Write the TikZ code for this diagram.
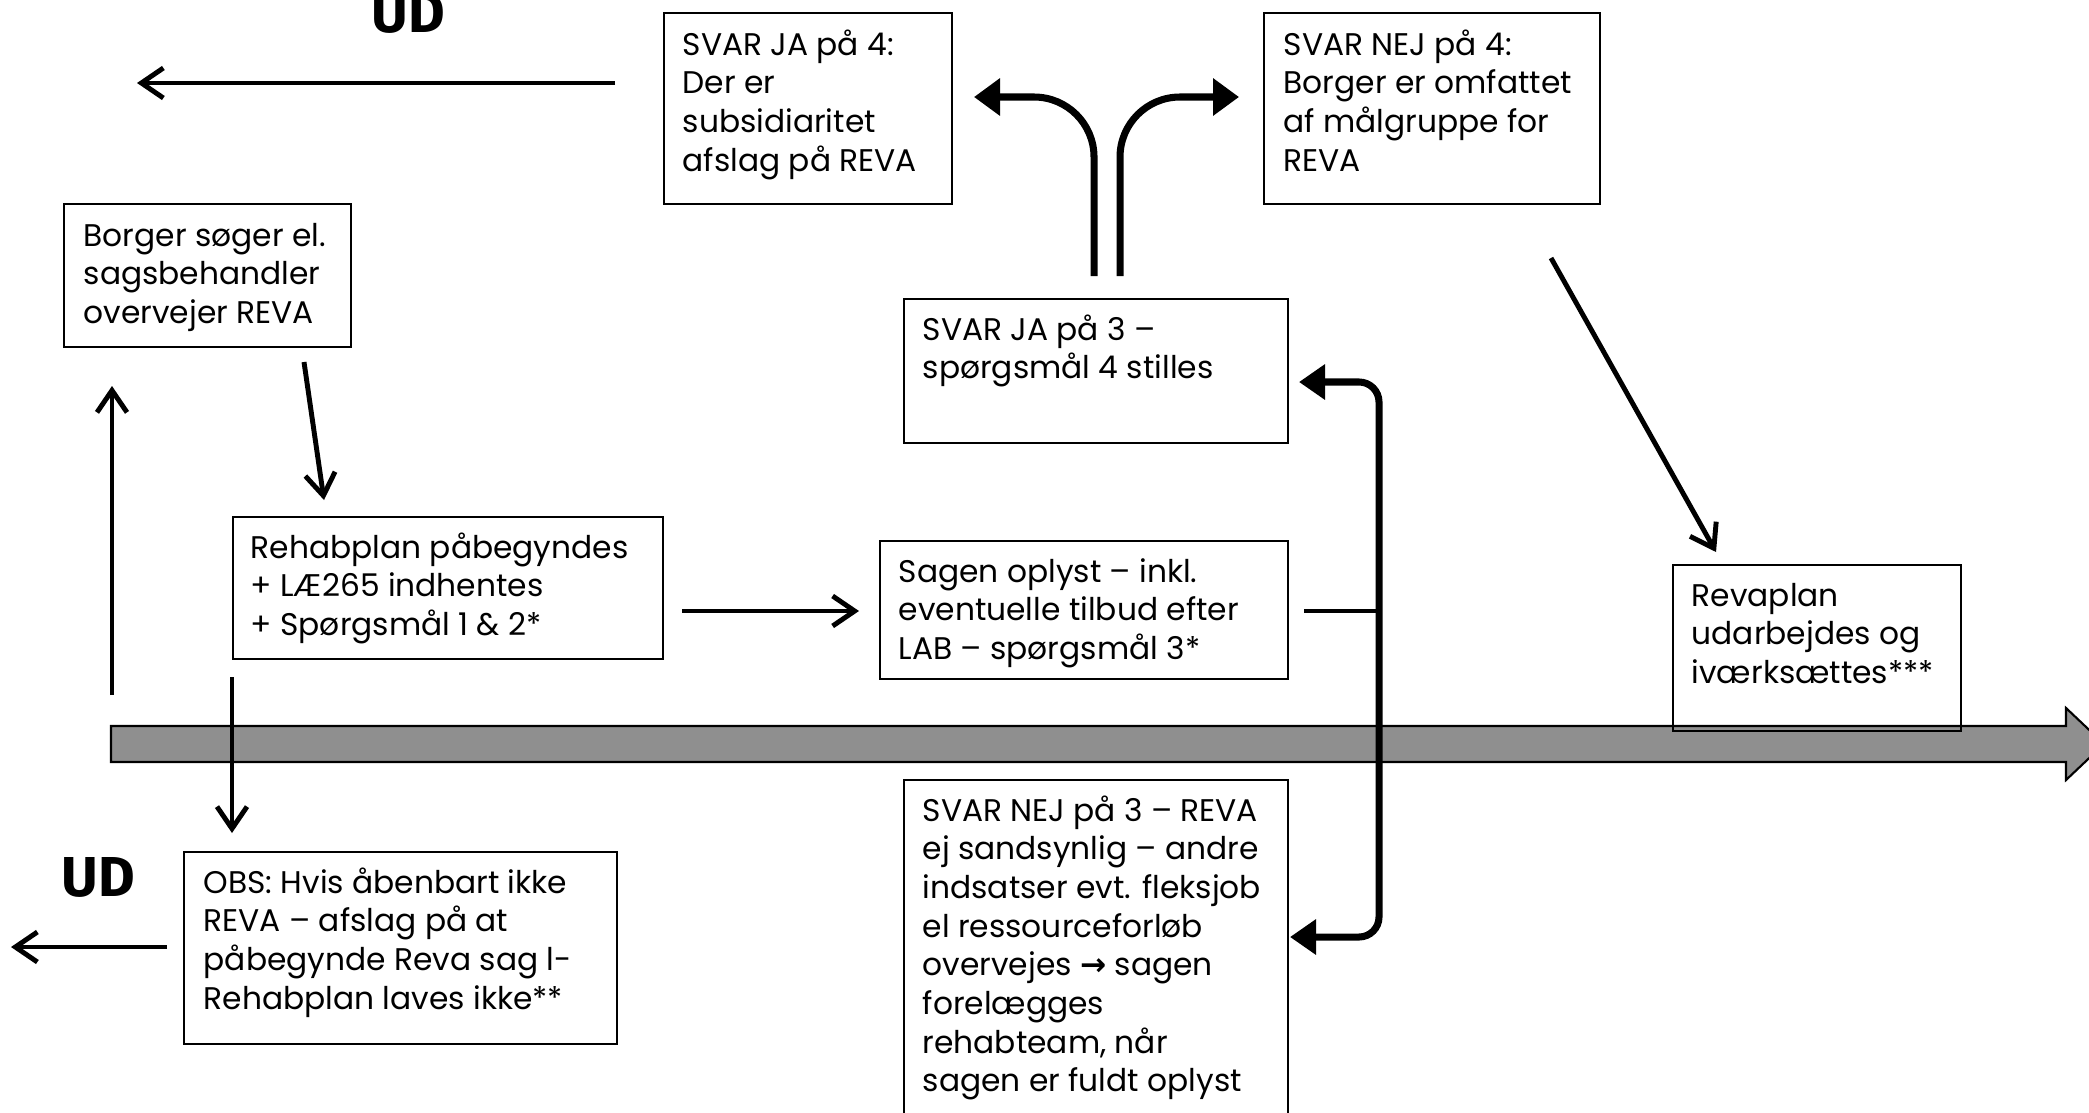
\documentclass[tikz,border=0pt]{standalone}
\usepackage{fontspec}
\setmainfont{Poppins}
\newfontfamily\udfont{Fira Sans}
\newfontfamily\arrowfont{DejaVu Sans}
\usetikzlibrary{arrows.meta}
\definecolor{barg}{RGB}{143,143,143}
\newcommand\lns[1]{\begin{tabular}[t]{@{}l@{}}#1\end{tabular}}
\begin{document}
\begin{tikzpicture}[x=0.01cm,y=-0.01cm,
  box/.style={draw, line width=0.6pt, anchor=north west, inner sep=0pt},
  txt/.style={anchor=base west, inner sep=0pt, font=\fontsize{8.9}{11}\selectfont},
  udtxt/.style={inner sep=0pt, font=\udfont\bfseries\fontsize{16}{18}\selectfont},
  thinarr/.style={line width=1.4pt, -{Straight Barb[length=2.2mm,width=3mm]}},
  thickarr/.style={line width=2pt, -{Triangle[length=2.6mm,width=3.6mm]}},
  plainline/.style={line width=1.4pt},
]
\useasboundingbox (0,0) rectangle (2089,1112);
\clip (0,0) rectangle (2089,1112);

% grey timeline
\draw[fill=barg, line width=0.6pt] (111,726) -- (2066,726) -- (2066,708) -- (2104,744) -- (2066,780) -- (2066,762) -- (111,762) -- cycle;

% boxes
\node[box, minimum width=2.88cm, minimum height=1.91cm] (ja4) at (663,12) {};
\node[box, minimum width=3.36cm, minimum height=1.91cm] (nej4) at (1263,12) {};
\node[box, minimum width=2.87cm, minimum height=1.43cm] (borger) at (63,203) {};
\node[box, minimum width=3.84cm, minimum height=1.44cm] (ja3) at (903,298) {};
\node[box, minimum width=4.30cm, minimum height=1.42cm] (rehab) at (232,516) {};
\node[box, minimum width=4.08cm, minimum height=1.38cm] (sagen) at (879,540) {};
\node[box, minimum width=2.88cm, minimum height=1.66cm] (reva) at (1672,564) {};
\node[box, minimum width=4.33cm, minimum height=1.92cm] (obs) at (183,851) {};
\node[box, minimum width=3.84cm, minimum height=3.36cm] (nej3) at (903,779) {};

% texts
\node[txt] (ja4t) at (682,55) {\lns{SVAR JA på 4:\\Der er\\subsidiaritet\\afslag på REVA}};
\node[txt] (nej4t) at (1283,55) {\lns{SVAR NEJ på 4:\\Borger er omfattet\\af målgruppe for\\REVA}};
\node[txt] (borgert) at (83,246) {\lns{Borger søger el.\\sagsbehandler\\overvejer REVA}};
\node[txt] (ja3t) at (922,340) {\lns{SVAR JA på 3 –\\spørgsmål 4 stilles}};
\node[txt] (rehabt) at (250,558) {\lns{Rehabplan påbegyndes\\+ LÆ265 indhentes\\+ Spørgsmål 1 \& 2*}};
\node[txt] (sagent) at (898,582) {\lns{Sagen oplyst – inkl.\\eventuelle tilbud efter\\LAB – spørgsmål 3*}};
\node[txt] (revat) at (1691,606) {\lns{Revaplan\\udarbejdes og\\iværksættes***}};
\node[txt] (obst) at (203,893) {\lns{OBS: Hvis åbenbart ikke\\REVA – afslag på at\\påbegynde Reva sag l-\\Rehabplan laves ikke**}};
\node[txt] (nej3t) at (922,821) {\lns{SVAR NEJ på 3 – REVA\\ej sandsynlig – andre\\indsatser evt. fleksjob\\el ressourceforløb\\overvejes {\arrowfont\bfseries →} sagen\\forelægges\\rehabteam, når\\sagen er fuldt oplyst}};

\node[udtxt] (ud1) at (408,13) {UD};
\node[udtxt] (ud2) at (98,877) {UD};

% connector end points
\coordinate (a1s) at (615,83);  \coordinate (a1e) at (137,83);
\coordinate (a2s) at (112,695); \coordinate (a2e) at (112,386);
\coordinate (a3s) at (304,362); \coordinate (a3e) at (324,500);
\coordinate (a4s) at (682,611); \coordinate (a4e) at (859,611);
\coordinate (a5s) at (1304,611); \coordinate (a5e) at (1379,611);
\coordinate (a6s) at (1299,382); \coordinate (a6e) at (1290,937);
\coordinate (a7s) at (1094,276); \coordinate (a7e) at (974,97);
\coordinate (a8s) at (1120,276); \coordinate (a8e) at (1239,97);
\coordinate (a9s) at (1551,258); \coordinate (a9e) at (1716,552);
\coordinate (a10s) at (232,677); \coordinate (a10e) at (232,833);
\coordinate (a11s) at (167,947); \coordinate (a11e) at (11,947);

% connectors
\draw[thinarr] (a1s) -- (a1e);
\draw[thinarr] (a2s) -- (a2e);
\draw[thinarr] (a3s) -- (a3e);
\draw[thinarr] (a4s) -- (a4e);
\draw[plainline] (a5s) -- (a5e);
\draw[thickarr, {Triangle[length=2.6mm,width=3.4mm]}-{Triangle[length=2.6mm,width=3.4mm]}, rounded corners=2mm] (a6s) -- (1379,382) -- (1379,937) -- (a6e);
\draw[thickarr, rounded corners=6mm] (a7s) -- (1094,97) -- (a7e);
\draw[thickarr, rounded corners=6mm] (a8s) -- (1120,97) -- (a8e);
\draw[thinarr] (a9s) -- (a9e);
\draw[thinarr] (a10s) -- (a10e);
\draw[thinarr] (a11s) -- (a11e);
\end{tikzpicture}
\end{document}
